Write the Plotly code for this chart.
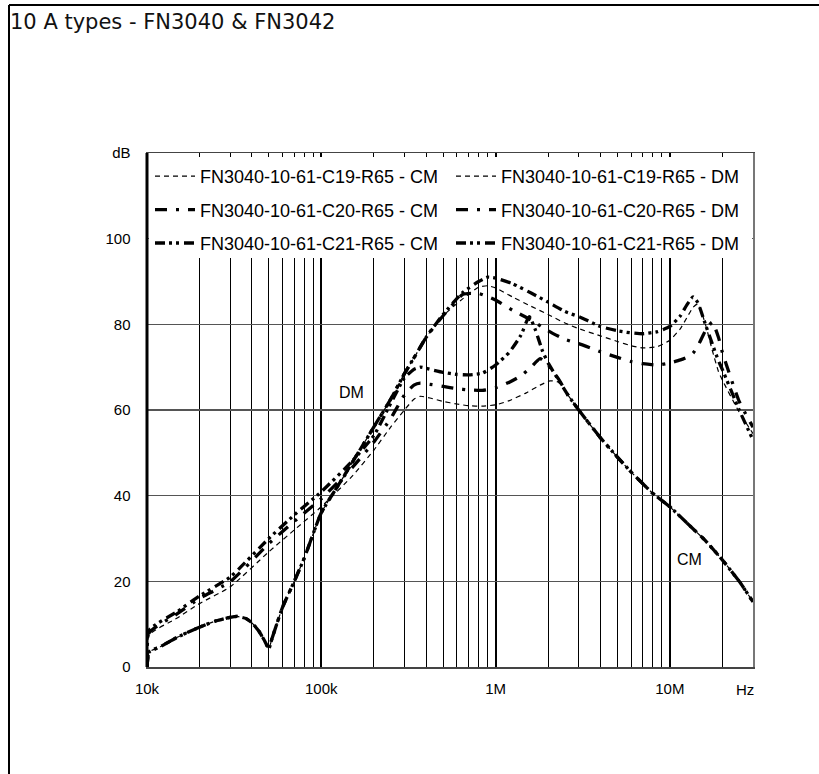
import numpy as np
import plotly.graph_objects as go

# ---------------- data ----------------
# Common-mode curves
f_cm_c19 = [1e4, 1.03e4, 1.5e4, 2e4, 3e4, 5e4, 7e4, 1e5, 1.5e5, 2e5, 2.5e5, 3e5, 3.4e5, 3.7e5, 4.2e5, 5e5,
            6e5, 7e5, 8.4e5, 1e6, 1.2e6, 1.5e6, 1.8e6, 2.05e6, 2.3e6, 2.6e6, 3e6, 4e6, 5e6, 6e6, 8e6, 1e7,
            1.3e7, 1.6e7, 2e7, 2.5e7, 3e7]
db_cm_c19 = [0, 7.5, 11.5, 14.8, 18.7, 26.9, 32, 37.4, 44.5, 50.6, 56, 60, 62.5, 63.2, 62.8, 62,
             61.4, 61.0, 60.9, 61.2, 62.2, 64, 65.8, 66.8, 66.5, 63.5, 60, 53.5, 49, 45.5, 40.5, 37.4,
             33, 29.5, 25, 20, 15.2]

f_cm_c20 = [1e4, 1.03e4, 1.5e4, 2e4, 3e4, 5e4, 7e4, 1e5, 1.5e5, 2e5, 2.5e5, 3e5, 3.4e5, 3.7e5, 4.2e5, 5e5,
            6e5, 7e5, 8.4e5, 1e6, 1.2e6, 1.4e6, 1.6e6, 1.8e6, 2e6, 2.3e6, 2.6e6, 3e6, 4e6, 5e6, 6e6, 8e6,
            1e7, 1.3e7, 1.6e7, 2e7, 2.5e7, 3e7]
db_cm_c20 = [0, 8.0, 12.5, 16.0, 19.9, 28.8, 34, 39.3, 46.5, 52.5, 58, 63.5, 65.8, 66.3, 66, 65.5,
             65, 64.7, 64.6, 65.2, 66.5, 68, 70, 72, 70.5, 67.2, 63.5, 60, 53.5, 49, 45.5, 40.5,
             37.4, 33, 29.5, 25, 20, 15.2]

f_cm_c21 = [1e4, 1.03e4, 1.5e4, 2e4, 3e4, 5e4, 7e4, 1e5, 1.5e5, 2e5, 2.5e5, 3e5, 3.4e5, 3.7e5, 4.2e5, 5e5,
            6e5, 7e5, 8.4e5, 1e6, 1.2e6, 1.4e6, 1.56e6, 1.7e6, 1.85e6, 2e6, 2.3e6, 2.6e6, 3e6, 4e6, 5e6,
            6e6, 8e6, 1e7, 1.3e7, 1.6e7, 2e7, 2.5e7, 3e7]
db_cm_c21 = [0, 8.6, 13, 16.6, 21.0, 30.0, 35.5, 40.9, 48, 54, 61.5, 67.5, 69.5, 70, 69.5, 68.8,
             68.3, 68.2, 68.6, 70.5, 73.5, 77.5, 81.8, 78.5, 74, 71, 67, 63.5, 60, 53.5, 49,
             45.5, 40.5, 37.4, 33, 29.5, 25, 20, 15.2]

# Differential-mode curves
f_dm = [1e4, 1.03e4, 1.2e4, 1.5e4, 2e4, 2.5e4, 3e4, 3.3e4, 3.7e4, 4e4, 4.4e4, 4.7e4, 5e4, 5.2e4, 5.5e4,
        6e4, 7e4, 8e4, 1e5, 1.3e5, 1.6e5, 2e5, 2.5e5, 3e5, 3.5e5, 4e5, 5e5, 6.5e5, 8e5, 9e5, 1e6,
        1.25e6, 1.6e6, 2e6, 2.5e6, 3e6, 4e6, 5e6, 6e6, 7e6, 8.5e6, 1e7, 1.15e7, 1.25e7, 1.36e7,
        1.45e7, 1.6e7, 1.75e7, 1.9e7, 2e7, 2.5e7, 3e7]
db_dm_c19 = [0, 3.5, 4.8, 7.0, 9.3, 10.8, 11.6, 11.8, 11.3, 10.3, 8.3, 6.3, 4.3, 6.5, 9.5,
             14, 20, 25.5, 36, 43.5, 49.5, 56, 62.5, 68.5, 73, 77, 82, 86, 88.7, 89, 88.5,
             86.4, 84.2, 82.3, 80.3, 79, 77.3, 76, 75, 74.5, 74.8, 76.3, 79, 81.5, 84,
             84.8, 80, 74, 69, 67, 59.5, 54.5]
db_dm_c20 = [0, 3.5, 4.8, 7.0, 9.3, 10.8, 11.6, 11.8, 11.3, 10.3, 8.3, 6.3, 4.3, 6.5, 9.5,
             14, 20, 25.5, 36, 43.5, 49.5, 56, 62.5, 68.5, 73, 77, 82, 87, 87.2, 86.5, 85.7,
             83.3, 81, 78.5, 76.5, 75.5, 73.6, 72.3, 71.3, 70.8, 70.5, 71, 71.7, 72.3, 73.3,
             75, 78.5, 80.5, 77, 73.5, 62, 56]
db_dm_c21 = [0, 3.5, 4.8, 7.0, 9.3, 10.8, 11.6, 11.8, 11.3, 10.3, 8.3, 6.3, 4.3, 6.5, 9.5,
             14, 20, 25.5, 36, 43.5, 49.5, 56, 62.5, 68.5, 73, 77, 82.3, 87.5, 90, 91, 90.8,
             89.5, 87.3, 85.2, 83, 81.8, 79.5, 78.5, 78, 77.8, 78.3, 79.5, 82, 84.5, 86.4,
             85, 80, 75.5, 71.5, 69.5, 60, 53]

names = ["FN3040-10-61-C19-R65 - CM", "FN3040-10-61-C20-R65 - CM", "FN3040-10-61-C21-R65 - CM",
         "FN3040-10-61-C19-R65 - DM", "FN3040-10-61-C20-R65 - DM", "FN3040-10-61-C21-R65 - DM"]

x_tick_vals = [1e4, 1e5, 1e6, 1e7]
x_tick_text = ["10k", "100k", "1M", "10M"]
y_tick_vals = [0, 20, 40, 60, 80, 100, 120]
y_tick_text = ["0", "20", "40", "60", "80", "100", "dB"]

# ---------------- figure ----------------
W, H = 819, 774
ML, MR, MT, MB = 147, 66, 153, 107
PW, PH = W - ML - MR, H - MT - MB

styles = [
    dict(width=1.2, dash="5px,4px"),
    dict(width=3.3, dash="12px,9px,3px,9px"),
    dict(width=3.3, dash="10px,4px,3px,4px,3px,5px"),
]

series = [(f_cm_c19, db_cm_c19), (f_cm_c20, db_cm_c20), (f_cm_c21, db_cm_c21),
          (f_dm, db_dm_c19), (f_dm, db_dm_c20), (f_dm, db_dm_c21)]

fig = go.Figure()
for i, (fx, fy) in enumerate(series):
    st = styles[i % 3]
    fig.add_trace(go.Scatter(
        x=fx, y=fy, mode="lines", name=names[i],
        line=dict(color="black", width=st["width"], dash=st["dash"], shape="spline", smoothing=0.5),
        legend="legend" if i < 3 else "legend2",
        legendgroup=f"g{i}",
        hoverinfo="skip",
    ))

minor_vals = [m * 10 ** d for d in range(4, 8) for m in range(2, 10) if m * 10 ** d < 3e7]

tick_font = dict(family="Liberation Sans, Arial, sans-serif", size=15, color="black")

fig.update_xaxes(
    type="log", range=[4, np.log10(3e7)],
    tickvals=x_tick_vals, ticktext=x_tick_text,
    showgrid=True, gridcolor="black", gridwidth=2,
    minor=dict(tickvals=minor_vals, showgrid=True, gridcolor="black", gridwidth=1,
               ticks="inside", ticklen=4, tickcolor="black"),
    ticks="inside", ticklen=4, tickcolor="black",
    showline=True, linecolor="#444", linewidth=1.5, mirror="ticks",
    tickfont=tick_font, ticklabelstandoff=7, zeroline=False,
)
fig.update_yaxes(
    range=[0, 120], tickvals=y_tick_vals, ticktext=y_tick_text,
    showgrid=True, gridcolor="#555", gridwidth=1.5,
    showline=True, linecolor="#777", linewidth=1.5, mirror=True,
    ticks="", tickfont=tick_font, ticklabelstandoff=12, zeroline=False,
)

def px_x(px):
    return (px - ML) / PW

def px_y(py):
    return 1 - (py - MT) / PH

shapes = [
    # white box behind the legend hiding the grid
    dict(type="rect", xref="paper", yref="paper", x0=px_x(149), x1=px_x(752), y0=px_y(258), y1=px_y(157),
         fillcolor="white", line=dict(width=0), layer="above"),
    # thick left axis
    dict(type="line", xref="paper", yref="paper", x0=0, x1=0, y0=0, y1=1,
         line=dict(color="black", width=3), layer="above"),
    # outer frame (left and top)
    dict(type="line", xref="paper", yref="paper", x0=px_x(9), x1=px_x(9), y0=px_y(790), y1=px_y(5),
         line=dict(color="black", width=2)),
    dict(type="line", xref="paper", yref="paper", x0=px_x(9), x1=px_x(830), y0=px_y(5), y1=px_y(5),
         line=dict(color="black", width=2)),
]

label_font = dict(family="Liberation Sans, Arial, sans-serif", size=16, color="black")
annotations = [
    dict(text="DM", x=np.log10(1.5e5), y=64, xref="x", yref="y", showarrow=False, font=label_font),
    dict(text="CM", x=np.log10(1.3e7), y=25, xref="x", yref="y", showarrow=False, font=label_font),
    dict(text="Hz", x=px_x(745), y=px_y(689), xref="paper", yref="paper", showarrow=False,
         font=tick_font, xanchor="center", yanchor="middle"),
]

legend_font = dict(family="Liberation Sans, Arial, sans-serif", size=18, color="black")
fig.update_layout(
    width=W, height=H,
    margin=dict(l=ML, r=MR, t=MT, b=MB),
    paper_bgcolor="white", plot_bgcolor="white",
    title=dict(text="10 A types - FN3040 &amp; FN3042", x=10 / W, y=1 - 22 / H, xref="container",
               yref="container", xanchor="left", yanchor="middle",
               font=dict(family="DejaVu Sans", size=21, color="#111")),
    shapes=shapes, annotations=annotations,
    legend=dict(x=px_x(150), y=px_y(158), xanchor="left", yanchor="top", bgcolor="rgba(0,0,0,0)",
                font=legend_font, tracegroupgap=7, itemwidth=40, borderwidth=0),
    legend2=dict(x=px_x(451), y=px_y(158), xanchor="left", yanchor="top", bgcolor="rgba(0,0,0,0)",
                 font=legend_font, tracegroupgap=7, itemwidth=40, borderwidth=0),
    showlegend=True,
)

fig.write_html("out.html", config={"displayModeBar": False, "staticPlot": True},
               post_script="document.body.style.margin='0';document.body.style.overflow='hidden';")
